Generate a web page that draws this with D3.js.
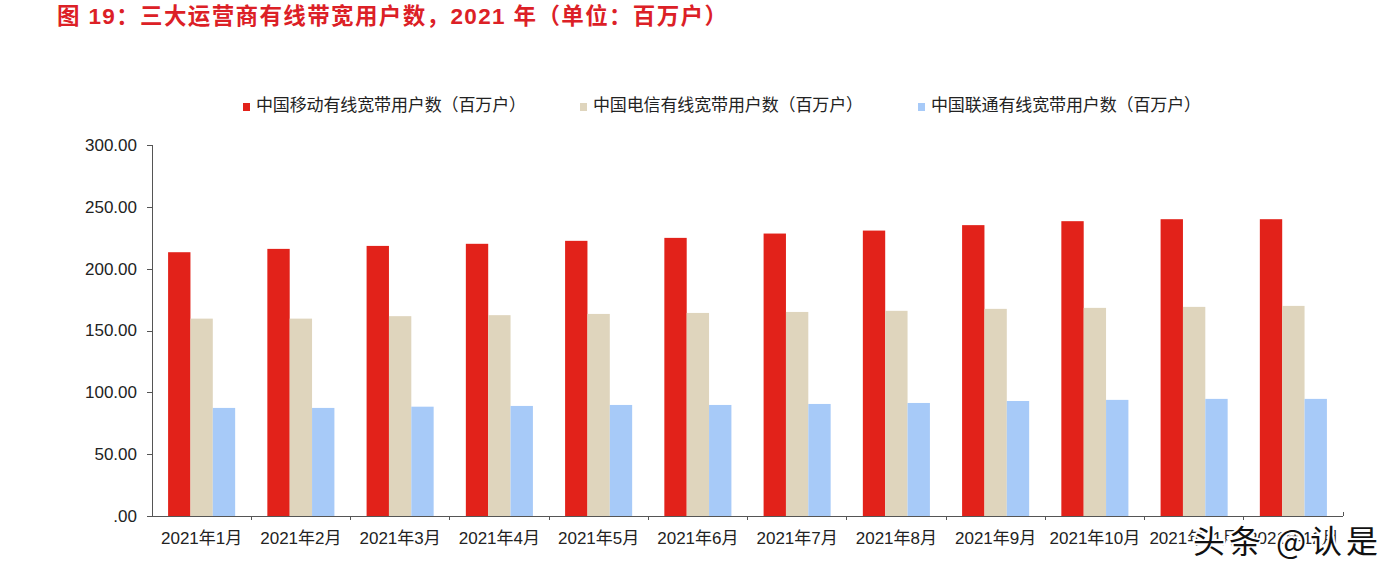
<!DOCTYPE html>
<html>
<head>
<meta charset="utf-8">
<script src="https://d3js.org/d3.v7.min.js"></script>
<style>
	body, html {
		margin: 0;
		padding: 0;
		background: #fff;
	}
	svg text {
		font-family: "Liberation Sans", Arial, "Noto Sans CJK SC", sans-serif;
	}
	.title {
		font-size: 22.5px;
		font-weight: bold;
		fill: #DC2026;
	}
	.legend-label {
		font-size: 17px;
		fill: #222;
	}
	.tick text {
		font-size: 17px;
		fill: #222;
	}
	.axis path, .axis line {
		fill: none;
		stroke: #555;
		shape-rendering: crispEdges;
	}
	.watermark {
		font-family: "Noto Sans CJK SC", sans-serif;
		font-size: 32px;
		fill: #111;
		stroke: #fff;
		stroke-width: 4px;
		paint-order: stroke;
	}
</style>
</head>
<body>
<script>

	// data
	var months = ["2021年1月", "2021年2月", "2021年3月", "2021年4月", "2021年5月", "2021年6月",
		"2021年7月", "2021年8月", "2021年9月", "2021年10月", "2021年11月", "2021年12月"];
	var seriesNames = ["中国移动有线宽带用户数（百万户）", "中国电信有线宽带用户数（百万户）", "中国联通有线宽带用户数（百万户）"];
	var mobile  = [213.3, 216.0, 218.4, 220.1, 222.5, 224.9, 228.4, 230.8, 235.2, 238.4, 240.0, 240.0];
	var telecom = [159.6, 159.6, 161.6, 162.4, 163.4, 164.2, 165.0, 165.9, 167.5, 168.3, 169.1, 169.9];
	var unicom  = [87.4, 87.4, 88.4, 89.0, 89.8, 89.8, 90.6, 91.4, 93.0, 93.9, 94.7, 94.7];
	var yTicks = [0, 50, 100, 150, 200, 250, 300];

	var colors = ["#E2221A", "#DFD5BD", "#A7CAF8"];
	var w = 1398, h = 577;
	var margin = {top: 145, right: 55, bottom: 61, left: 152};

	var values = [mobile, telecom, unicom];
	var data = months.map(function(m, i) {
		return {month: m, vals: values.map(function(s, k) { return {k: k, v: s[i]}; })};
	});

	var svg = d3.select("body").append("svg")
		.attr("width", w)
		.attr("height", h);

	svg.append("text")
		.attr("class", "title")
		.attr("x", 57)
		.attr("y", 24)
		.attr("textLength", 670)
		.attr("lengthAdjust", "spacing")
		.text("图 19：三大运营商有线带宽用户数，2021 年（单位：百万户）");

	var x0 = d3.scaleBand()
		.domain(months)
		.range([margin.left, w - margin.right]);

	var x1 = d3.scaleBand()
		.domain([0, 1, 2])
		.range([0, x0.bandwidth()])
		.paddingInner(0)
		.paddingOuter(0.72);

	var y = d3.scaleLinear()
		.domain([0, 300])
		.range([h - margin.bottom, margin.top]);

	// bars
	var groups = svg.append("g").selectAll("g")
		.data(data)
		.enter().append("g")
		.attr("transform", function(d) { return "translate(" + x0(d.month) + ",0)"; });

	groups.selectAll("rect")
		.data(function(d) { return d.vals; })
		.enter().append("rect")
		.attr("x", function(d) { return x1(d.k); })
		.attr("y", function(d) { return y(d.v); })
		.attr("width", x1.bandwidth())
		.attr("height", function(d) { return y(0) - y(d.v); })
		.style("fill", function(d) { return colors[d.k]; });

	// y axis
	var yAxis = d3.axisLeft(y)
		.tickValues(yTicks)
		.tickSize(5)
		.tickPadding(10)
		.tickFormat(function(d) { return d === 0 ? ".00" : d3.format(".2f")(d); });

	svg.append("g")
		.attr("class", "axis")
		.attr("transform", "translate(" + margin.left + ",0)")
		.call(yAxis)
		.call(function(g) { g.select(".domain").attr("d", "M0," + y(300) + "V" + y(0)); });

	// x axis: ticks sit between categories
	var xAxis = d3.axisBottom(x0).tickSize(0).tickPadding(16);
	var xg = svg.append("g")
		.attr("class", "axis")
		.attr("transform", "translate(0," + y(0) + ")")
		.call(xAxis);
	xg.select(".domain").attr("d", "M" + margin.left + ",0H" + (w - margin.right));
	xg.selectAll(".sep")
		.data(months.slice(1).concat(["end"]))
		.enter().append("line")
		.attr("class", "sep")
		.attr("x1", function(d) { return d === "end" ? w - margin.right : x0(d); })
		.attr("x2", function(d) { return d === "end" ? w - margin.right : x0(d); })
		.attr("y1", function(d) { return d === "end" ? -4 : 0; })
		.attr("y2", function(d) { return d === "end" ? 0 : 4; });

	// legend
	var legendX = [243, 580, 918];
	var legend = svg.append("g").selectAll("g")
		.data(seriesNames)
		.enter().append("g")
		.attr("transform", function(d, i) { return "translate(" + legendX[i] + ",103)"; });
	legend.append("rect")
		.attr("width", 7)
		.attr("height", 8)
		.style("fill", function(d, i) { return colors[i]; });
	legend.append("text")
		.attr("class", "legend-label")
		.attr("x", 13)
		.attr("y", 8)
		.attr("textLength", 270)
		.attr("lengthAdjust", "spacing")
		.text(function(d) { return d; });

	// watermark
	svg.append("text")
		.attr("class", "watermark")
		.attr("x", 1193)
		.attr("y", 553)
		.attr("textLength", 185)
		.attr("lengthAdjust", "spacing")
		.text("头条 @认是");

</script>
</body>
</html>
